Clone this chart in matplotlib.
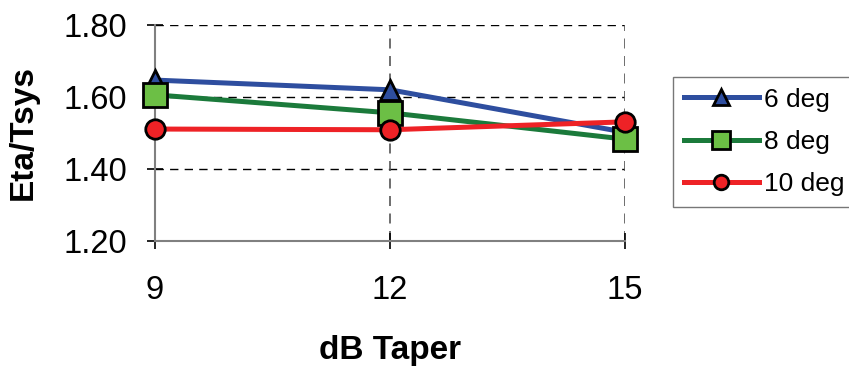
import matplotlib
matplotlib.use("Agg")
import matplotlib.pyplot as plt

plt.rcParams['font.family'] = ['Liberation Sans', 'DejaVu Sans']

# data
taper_db = [9, 12, 15]
eta_6deg = [1.647, 1.620, 1.502]
eta_8deg = [1.606, 1.556, 1.483]
eta_10deg = [1.511, 1.509, 1.531]
series_labels = ["6 deg", "8 deg", "10 deg"]
y_ticks = [1.20, 1.40, 1.60, 1.80]

fig = plt.figure(figsize=(8.49, 3.70), dpi=100)
ax = fig.add_axes([155 / 849, 1 - 241 / 370, 470 / 849, 216 / 370])

ax.plot(taper_db, eta_6deg, color="#2E4E9F", lw=3.6, marker="^", ms=15,
        mfc="#2E4E9F", mec="black", mew=2, clip_on=False, zorder=3,
        label=series_labels[0])
ax.plot(taper_db, eta_8deg, color="#1B7A3B", lw=3.6, marker="s", ms=17,
        mfc="#6CBF45", mec="black", mew=2, clip_on=False, zorder=4,
        label=series_labels[1])
ax.plot(taper_db, eta_10deg, color="#EE2226", lw=3.6, marker="o", ms=14,
        mfc="#EE2226", mec="black", mew=2, clip_on=False, zorder=5,
        label=series_labels[2])

ax.set_xlim(9, 15)
ax.set_ylim(1.2, 1.8)
ax.set_xticks(taper_db)
ax.set_yticks(y_ticks)
ax.set_yticklabels([f"{v:.2f}" for v in y_ticks])

# dashed grid, skipping the lines that sit on the axes
for v in y_ticks[1:]:
    ax.axhline(v, color="black", lw=1, ls=(0, (6, 4.5)), zorder=1)
for v in taper_db[1:]:
    ax.axvline(v, color="#555555", lw=1.2, ls=(0, (6, 4.5)), zorder=1)

for s in ["top", "right"]:
    ax.spines[s].set_visible(False)
for s in ["left", "bottom"]:
    ax.spines[s].set_color("#808080")
    ax.spines[s].set_linewidth(1.5)

ax.tick_params(axis="both", direction="inout", length=11, width=1.2,
               color="black", labelsize=23.5)
ax.tick_params(axis="y", pad=14.5)
ax.tick_params(axis="x", pad=19)

ax.set_ylabel("Eta/Tsys", fontsize=24, fontweight="bold", labelpad=18)
ax.set_xlabel("dB Taper", fontsize=24, fontweight="bold", labelpad=21)

leg = fig.legend(loc="upper left", bbox_to_anchor=(673 / 849, 1 - 77 / 370),
                 fontsize=19, frameon=True, fancybox=False, markerscale=0.75,
                 handlelength=2.84, borderpad=0.4, labelspacing=0.7,
                 handletextpad=0.19, borderaxespad=0)
leg.get_frame().set_edgecolor("#555555")
leg.get_frame().set_linewidth(1.0)

fig.savefig("out.png", dpi=100)
